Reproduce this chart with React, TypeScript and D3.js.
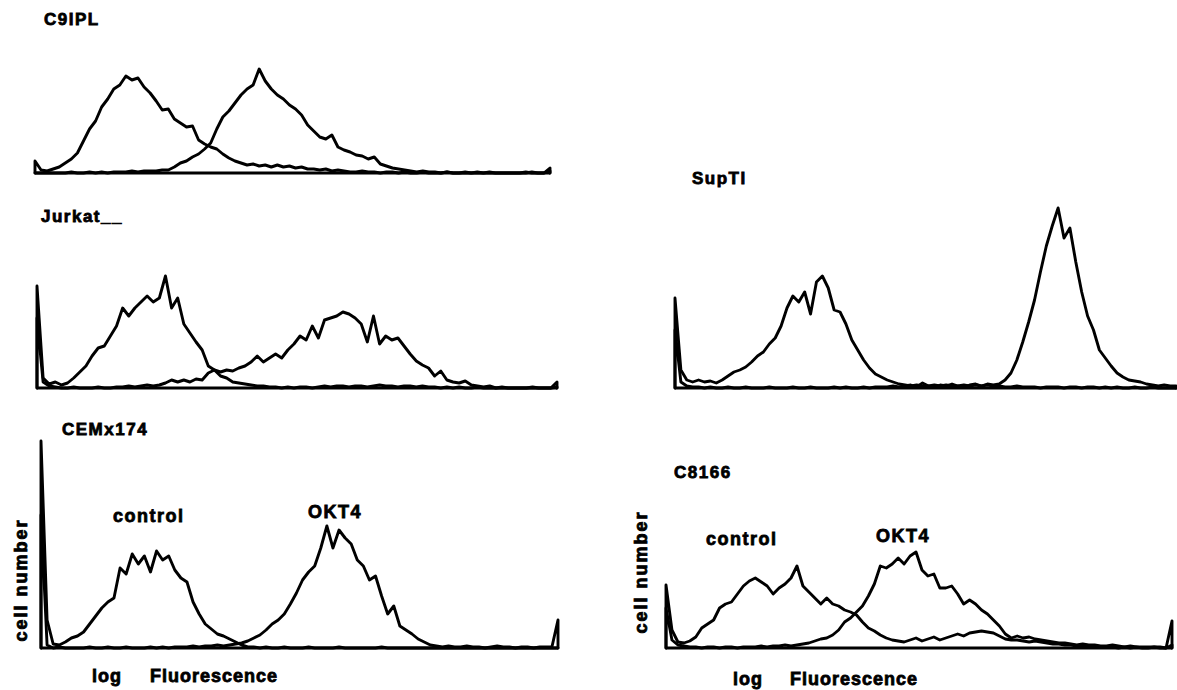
import React from "react";
import * as d3 from "d3";

// histogram counts, 86 channels per trace (log fluorescence, low -> high)
const c9iplControl = [
  12, 3, 2, 4, 6, 10, 14, 20, 32, 44,
  52, 66, 74, 84, 88, 97, 93, 95, 86, 80,
  72, 63, 64, 54, 50, 46, 47, 33, 29, 26,
  24, 19, 15, 12, 10, 8, 9, 7, 8, 6,
  8, 6, 7, 5, 6, 4, 4, 3, 4, 2,
  3, 2, 1, 1, 2, 1, 1, 0, 1, 1,
  0, 1, 0, 0, 1, 0, 0, 0, 1, 0,
  0, 0, 0, 1, 0, 0, 0, 0, 0, 0,
  0, 0, 1, 0, 0, 2,
];
const c9iplOkt4 = [
  0, 0, 0, 0, 0, 0, 1, 0, 0, 1,
  0, 1, 0, 1, 1, 1, 2, 1, 2, 2,
  2, 3, 3, 6, 10, 12, 16, 19, 24, 30,
  44, 56, 62, 70, 78, 84, 88, 104, 92, 84,
  78, 74, 68, 64, 58, 48, 42, 36, 34, 38,
  26, 23, 21, 18, 17, 14, 16, 9, 7, 5,
  4, 3, 2, 1, 2, 1, 1, 0, 1, 0,
  0, 1, 0, 0, 0, 1, 0, 0, 0, 0,
  0, 1, 0, 0, 0, 5,
];

const jurkatControl = [
  102, 10, 4, 6, 3, 5, 10, 16, 22, 32,
  40, 42, 52, 62, 80, 72, 80, 86, 92, 86,
  90, 112, 80, 90, 64, 55, 46, 38, 22, 18,
  12, 10, 6, 5, 4, 3, 2, 2, 1, 1,
  0, 1, 0, 1, 1, 0, 1, 2, 1, 2,
  2, 1, 2, 2, 1, 2, 3, 2, 2, 1,
  2, 2, 1, 2, 1, 1, 0, 1, 0, 1,
  0, 0, 1, 0, 0, 0, 0, 0, 0, 0,
  0, 0, 0, 0, 0, 1,
];
const jurkatOkt4 = [
  70, 6, 2, 1, 0, 0, 1, 0, 0, 0,
  1, 0, 0, 1, 1, 2, 1, 2, 3, 2,
  3, 5, 8, 6, 8, 6, 9, 8, 15, 18,
  16, 18, 17, 20, 22, 26, 32, 26, 30, 34,
  30, 38, 44, 52, 48, 62, 50, 68, 70, 72,
  76, 74, 70, 64, 46, 72, 44, 52, 48, 50,
  42, 34, 27, 23, 20, 12, 17, 8, 6, 5,
  7, 3, 2, 1, 2, 0, 1, 0, 0, 0,
  0, 1, 0, 0, 0, 6,
];

const cemControl = [
  207, 28, 4, 3, 6, 10, 12, 16, 24, 32,
  40, 46, 50, 80, 74, 94, 84, 92, 76, 97,
  88, 92, 78, 70, 66, 46, 34, 24, 19, 14,
  12, 9, 6, 3, 1, 1, 0, 1, 0, 0,
  1, 0, 0, 0, 1, 0, 0, 0, 0, 1,
  0, 0, 0, 0, 0, 0, 1, 0, 0, 0,
  0, 0, 0, 0, 0, 0, 0, 0, 0, 0,
  0, 0, 0, 0, 0, 0, 0, 0, 0, 0,
  0, 0, 0, 0, 0, 0,
];
const cemOkt4 = [
  133, 3, 0, 1, 0, 0, 0, 0, 1, 0,
  0, 1, 0, 0, 1, 0, 0, 0, 1, 0,
  1, 0, 1, 1, 1, 2, 1, 2, 2, 3,
  2, 3, 4, 5, 7, 10, 13, 18, 24, 28,
  34, 44, 55, 68, 76, 82, 100, 122, 100, 118,
  110, 104, 88, 82, 68, 72, 52, 34, 42, 22,
  18, 14, 9, 6, 3, 2, 1, 2, 1, 1,
  2, 1, 1, 0, 1, 2, 1, 1, 0, 1,
  1, 0, 1, 1, 1, 28,
];

const supControl = [
  90, 18, 8, 6, 8, 6, 7, 5, 8, 12,
  16, 18, 21, 26, 32, 36, 44, 50, 62, 80,
  92, 86, 96, 74, 106, 112, 100, 78, 76, 64,
  48, 38, 28, 20, 14, 11, 8, 6, 4, 3,
  2, 3, 2, 2, 3, 2, 3, 2, 2, 3,
  2, 3, 2, 3, 2, 2, 1, 1, 2, 1,
  1, 1, 0, 1, 1, 1, 0, 1, 1, 0,
  1, 1, 0, 1, 0, 1, 0, 0, 1, 0,
  0, 1, 0, 0, 0, 0,
];
const supOkt4 = [
  58, 6, 2, 1, 1, 0, 1, 0, 0, 1,
  0, 0, 1, 0, 0, 0, 1, 0, 0, 0,
  1, 0, 0, 1, 0, 0, 0, 1, 0, 1,
  0, 0, 1, 0, 1, 1, 1, 2, 1, 2,
  3, 1, 5, 2, 1, 3, 2, 4, 2, 1,
  3, 4, 2, 4, 3, 4, 8, 15, 28, 46,
  66, 88, 116, 142, 162, 180, 150, 160, 126, 96,
  72, 58, 38, 30, 22, 15, 11, 8, 7, 6,
  4, 3, 2, 3, 2, 2,
];

const c8166Control = [
  63, 18, 6, 5, 7, 11, 20, 24, 28, 40,
  44, 46, 54, 62, 67, 70, 66, 62, 54, 60,
  64, 70, 82, 62, 56, 50, 44, 50, 44, 42,
  38, 36, 33, 26, 20, 17, 13, 10, 8, 7,
  6, 8, 10, 7, 9, 11, 8, 10, 12, 14,
  12, 15, 16, 17, 16, 15, 12, 9, 8, 8,
  7, 6, 7, 6, 5, 4, 4, 3, 3, 2,
  2, 1, 2, 1, 1, 1, 0, 1, 0, 1,
  0, 0, 1, 0, 0, 27,
];
const c8166Okt4 = [
  40, 8, 3, 2, 1, 1, 0, 1, 1, 0,
  1, 1, 0, 1, 1, 1, 2, 1, 2, 2,
  3, 2, 3, 4, 5, 7, 9, 10, 13, 18,
  26, 30, 36, 42, 52, 64, 82, 80, 84, 90,
  84, 92, 96, 78, 72, 74, 60, 60, 62, 54,
  44, 48, 44, 38, 34, 28, 22, 14, 10, 12,
  10, 11, 9, 8, 7, 6, 5, 5, 4, 3,
  4, 3, 3, 2, 2, 3, 2, 1, 2, 1,
  1, 1, 1, 1, 0, 3,
];

const titles = ["C9IPL", "Jurkat__", "CEMx174", "SupTI", "C8166"];
const seriesNames = ["control", "OKT4"];
const xAxisWords = ["log", "Fluorescence"];
const yAxisTitle = "cell number";

// where each histogram sits on the page
const panels = [
  { title: titles[0], traces: [c9iplControl, c9iplOkt4], x0: 35, x1: 550, base: 173, tx: 44, ty: 25 },
  { title: titles[1], traces: [jurkatControl, jurkatOkt4], x0: 37, x1: 557, base: 388, tx: 41, ty: 222 },
  {
    title: titles[2], traces: [cemControl, cemOkt4], x0: 41, x1: 558, base: 648, tx: 62, ty: 435,
    names: [[113, 522], [308, 518]], yLab: [27, 580], xLab: [92, 150, 682],
  },
  { title: titles[3], traces: [supControl, supOkt4], x0: 675, x1: 1176, base: 388, tx: 692, ty: 184 },
  {
    title: titles[4], traces: [c8166Control, c8166Okt4], x0: 666, x1: 1172, base: 648, tx: 674, ty: 478,
    names: [[706, 545], [876, 542]], yLab: [647, 572], xLab: [733, 790, 685],
  },
];

const font = {
  fontFamily: "'Liberation Sans', Arial, Helvetica, sans-serif",
  fontWeight: 700,
  fontSize: 17,
  letterSpacing: 1.5,
  fill: "#000",
  stroke: "#000",
  strokeWidth: 0.8,
};

function Histogram({ p }: { p: any }) {
  const n = p.traces[0].length;
  const x = d3.scaleLinear().domain([0, n - 1]).range([p.x0, p.x1]);
  const y = d3.scaleLinear().domain([0, 100]).range([p.base, p.base - 100]);
  const line = d3
    .line<[number, number]>()
    .x((d) => x(d[0]))
    .y((d) => y(d[1]));

  return (
    <g>
      <line x1={p.x0} x2={p.x1} y1={y(0)} y2={y(0)} stroke="#000" strokeWidth={3} />
      {p.traces.map((t: number[], k: number) => {
        const pts: [number, number][] = [[0, 0], ...t.map((v, i) => [i, v] as [number, number]), [n - 1, 0]];
        return (
          <path
            key={k}
            d={line(pts) || ""}
            fill="none"
            stroke="#000"
            strokeWidth={2.9}
            strokeLinejoin="round"
            strokeLinecap="round"
          />
        );
      })}
      <text x={p.tx} y={p.ty} style={font}>{p.title}</text>
      {p.names &&
        p.names.map((pos: number[], k: number) => (
          <text key={k} x={pos[0]} y={pos[1]} style={{ ...font, fontSize: 18 }}>
            {seriesNames[k]}
          </text>
        ))}
      {p.yLab && (
        <text
          transform={`translate(${p.yLab[0]},${p.yLab[1]}) rotate(-90)`}
          textAnchor="middle"
          style={{ ...font, fontSize: 18, letterSpacing: 2 }}
        >
          {yAxisTitle}
        </text>
      )}
      {p.xLab && (
        <text y={p.xLab[2]} style={{ ...font, fontSize: 18, letterSpacing: 1 }}>
          <tspan x={p.xLab[0]}>{xAxisWords[0]}</tspan>
          <tspan x={p.xLab[1]}>{xAxisWords[1]}</tspan>
        </text>
      )}
    </g>
  );
}

export default function App() {
  return (
    <svg
      width={1177}
      height={690}
      viewBox="0 0 1177 690"
      style={{ position: "absolute", left: 0, top: 0, background: "#fff" }}
    >
      <rect width={1177} height={690} fill="#fff" />
      {panels.map((p) => (
        <Histogram key={p.title} p={p} />
      ))}
    </svg>
  );
}
